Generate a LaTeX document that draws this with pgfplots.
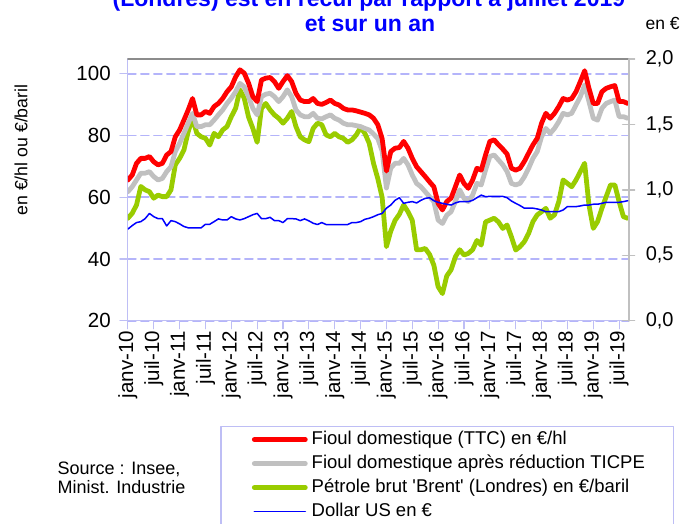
\documentclass[border=0pt]{standalone}
\usepackage{pgfplots}
\pgfplotsset{compat=1.18}
\usepackage{pgfplotstable}
\usepackage{fontspec}
\setmainfont{Liberation Sans}

\definecolor{lav}{RGB}{190,190,245}
\definecolor{gridlav}{RGB}{180,180,250}
\definecolor{fgray}{RGB}{192,192,192}
\definecolor{topgray}{RGB}{140,140,140}
\definecolor{brent}{RGB}{153,204,0}

% mois depuis janv-10 ; fioul TTC, fioul apres reduction TICPE, Brent (EUR/baril), dollar en EUR
\pgfplotstableread{
m red gray brent usd
0 65.6 61.8 53.2 0.700
1 67.2 63.4 54.8 0.727
2 71.0 65.6 57.5 0.750
3 72.6 67.8 63.5 0.757
4 72.6 67.8 62.4 0.780
5 73.2 68.3 61.8 0.820
6 71.5 66.7 59.7 0.795
7 70.5 65.6 60.7 0.780
8 71.0 66.1 60.2 0.780
9 73.7 68.3 60.2 0.724
10 74.8 69.9 62.4 0.765
11 79.6 74.8 70.5 0.757
12 81.8 77.5 72.6 0.740
13 85.0 80.7 75.3 0.720
14 88.3 84.0 81.3 0.710
15 92.0 87.2 85.6 0.710
16 86.7 82.9 80.7 0.710
17 86.7 82.9 79.6 0.710
18 87.8 83.5 79.1 0.737
19 87.2 83.5 76.9 0.737
20 89.4 85.0 80.7 0.757
21 90.4 86.7 79.6 0.778
22 92.0 88.3 81.8 0.770
23 94.2 90.4 82.9 0.770
24 95.8 92.1 86.1 0.795
25 99.0 94.2 88.8 0.778
26 101.3 96.9 94.8 0.770
27 100.2 95.8 92.1 0.780
28 97.0 92.6 86.0 0.795
29 92.6 88.8 82.3 0.810
30 91.0 86.7 77.8 0.820
31 98.0 92.6 88.8 0.780
32 98.6 93.4 90.4 0.780
33 98.8 93.7 88.3 0.790
34 97.5 92.6 86.7 0.765
35 95.3 91.0 85.6 0.765
36 97.5 92.6 84.0 0.750
37 99.4 94.8 85.6 0.780
38 97.5 92.6 87.8 0.780
39 93.7 88.3 82.9 0.778
40 91.5 86.7 79.6 0.765
41 91.0 86.1 78.6 0.778
42 91.0 86.1 78.0 0.763
43 92.0 87.2 82.3 0.745
44 90.4 85.6 84.0 0.735
45 90.1 85.4 83.5 0.750
46 90.7 86.1 80.2 0.735
47 91.5 86.7 79.6 0.735
48 90.4 85.6 80.7 0.735
49 89.9 85.0 79.6 0.735
50 88.8 84.0 79.1 0.735
51 88.3 83.5 77.8 0.735
52 88.3 83.5 78.6 0.750
53 88.0 83.2 80.2 0.750
54 87.6 82.9 82.6 0.757
55 87.2 82.3 80.7 0.775
56 86.7 81.8 77.5 0.783
57 85.6 80.5 71.0 0.795
58 83.5 79.0 66.0 0.810
59 79.0 75.0 60.0 0.820
60 68.5 63.0 44.0 0.860
61 74.8 69.4 49.0 0.884
62 75.9 71.0 52.5 0.920
63 76.1 71.0 54.5 0.940
64 78.1 72.6 57.5 0.897
65 75.9 70.5 55.3 0.905
66 72.6 67.2 52.5 0.910
67 69.9 64.5 43.0 0.900
68 68.3 63.4 43.0 0.920
69 66.7 61.8 43.4 0.935
70 65.0 60.2 41.5 0.940
71 63.4 58.6 38.0 0.917
72 58.0 52.6 31.0 0.905
73 55.9 51.5 28.8 0.897
74 58.6 54.2 34.5 0.890
75 59.7 55.3 36.5 0.884
76 63.4 58.6 40.7 0.900
77 67.2 62.4 43.0 0.910
78 64.5 59.7 41.3 0.910
79 62.9 58.6 41.8 0.910
80 65.6 60.7 43.0 0.920
81 69.4 64.5 46.0 0.940
82 68.8 64.0 44.5 0.960
83 73.7 68.8 52.0 0.948
84 78.1 73.2 52.6 0.950
85 78.6 73.7 53.2 0.950
86 77.0 72.1 52.0 0.950
87 75.6 70.5 49.9 0.950
88 74.0 68.3 51.0 0.940
89 69.4 64.5 47.2 0.915
90 68.8 64.0 42.9 0.897
91 69.4 64.5 44.0 0.880
92 71.6 66.6 45.6 0.860
93 74.3 69.4 48.3 0.860
94 77.0 72.6 52.1 0.860
95 79.1 74.8 54.3 0.854
96 84.0 79.6 55.3 0.846
97 87.2 82.3 56.4 0.833
98 85.6 80.7 53.2 0.833
99 87.2 82.3 54.3 0.833
100 89.4 84.5 58.6 0.833
101 92.0 87.2 65.6 0.846
102 91.5 86.7 64.5 0.872
103 92.0 87.2 63.4 0.872
104 94.2 89.9 65.6 0.872
105 97.5 92.6 68.3 0.877
106 101.0 96.4 71.0 0.884
107 95.3 91.0 57.5 0.884
108 90.4 85.6 49.9 0.890
109 90.4 85.0 52.1 0.890
110 94.2 88.8 56.4 0.897
111 95.3 90.4 60.2 0.905
112 95.8 91.0 64.0 0.905
113 96.2 91.5 64.0 0.905
114 91.0 86.1 58.6 0.905
115 91.0 86.1 53.7 0.910
116 90.4 85.6 53.2 0.917
}\prix

\begin{document}
\begin{tikzpicture}[x=1pt,y=1pt]
\path[use as bounding box] (-127.9,-202.3) rectangle (555.1,320.7);

\begin{axis}[
    at={(0,0)}, anchor=south west,
    scale only axis, width=500.7pt, height=261.7pt,
    xmin=0, xmax=116.2, ymin=20, ymax=104.8,
    axis x line*=bottom, axis y line*=left,
    axis line style={lav, line width=1.2pt},
    xtick={0,6,...,114},
    xticklabels={janv-10,juil-10,janv-11,juil-11,janv-12,juil-12,janv-13,juil-13,janv-14,juil-14,janv-15,juil-15,janv-16,juil-16,janv-17,juil-17,janv-18,juil-18,janv-19,juil-19},
    ytick={20,40,60,80,100},
    tick align=outside, major tick length=8pt,
    tick style={lav, line width=1.2pt},
    ymajorgrids,
    grid style={gridlav, line width=1.6pt, dash pattern=on 8pt off 5pt},
    /pgf/number format/assume math mode=true,
    x tick label style={rotate=90, anchor=east, font=\fontsize{20.5}{20.5}\selectfont, inner sep=2pt},
    y tick label style={font=\fontsize{20.5}{20.5}\selectfont, inner sep=1pt, xshift=-8pt},
    line join=round, line cap=round,
]
\addplot[brent, line width=4.8pt] table[x=m, y=brent]{\prix};
\addplot[fgray, line width=4.8pt] table[x=m, y=gray]{\prix};
\addplot[red, line width=4.8pt] table[x=m, y=red]{\prix};
\end{axis}

\begin{axis}[
    at={(0,0)}, anchor=south west,
    scale only axis, width=500.7pt, height=261.7pt,
    xmin=0, xmax=116.2, ymin=0, ymax=2,
    axis x line*=top, axis y line*=right,
    x axis line style={topgray, line width=1.5pt},
    y axis line style={fgray, line width=2.2pt},
    xtick=\empty,
    ytick={0,0.5,...,2},
    tick align=center, major tick length=12pt,
    ytick style={fgray, line width=1.4pt},
    /pgf/number format/assume math mode=true,
    /pgf/number format/fixed,
    /pgf/number format/fixed zerofill,
    /pgf/number format/precision=1,
    /pgf/number format/use comma,
    y tick label style={font=\fontsize{20}{20}\selectfont, inner sep=1pt, anchor=west, xshift=10pt},
    legend style={at={(0.1846,-0.4005)}, anchor=north west, draw=lav, line width=1.2pt,
        font=\fontsize{18.5}{18.5}\selectfont, inner xsep=28pt, inner ysep=4pt,
        row sep=5pt, column sep=3pt,
        nodes={inner sep=1pt, text height=13pt, text depth=4pt}},
    legend cell align=left,
    legend image code/.code={\path (0pt,0pt); \draw[#1, line cap=round] (3pt,0pt) -- (54pt,0pt);},
    line join=round, line cap=round,
]
\addlegendimage{red, line width=4.8pt}
\addlegendentry{Fioul domestique (TTC) en €/hl}
\addlegendimage{fgray, line width=4.8pt}
\addlegendentry{Fioul domestique après réduction TICPE}
\addlegendimage{brent, line width=4.8pt}
\addlegendentry{Pétrole brut \textquotesingle Brent\textquotesingle\ (Londres) en €/baril}
\addplot[blue, line width=1.5pt] table[x=m, y=usd]{\prix};
\addlegendentry{Dollar US en €}
\end{axis}

% titre (premiere ligne coupee par le bord)
\node[anchor=base, text=blue, font=\bfseries\fontsize{23}{23}\selectfont] at (241,314.7) {(Londres) est en recul par rapport à juillet 2019};
\node[anchor=base, text=blue, font=\bfseries\fontsize{23}{23}\selectfont] at (242.1,289.7) {et sur un an};
\node[anchor=base west, font=\fontsize{17.5}{17.5}\selectfont] at (514.1,291.7) {en €};
\node[rotate=90, font=\fontsize{17.7}{17.7}\selectfont] at (-106.9,170.7) {en €/hl ou €/baril};
\node[anchor=north west, align=left, inner sep=0pt, font=\fontsize{18}{19.5}\selectfont] at (-70.4,-141) {Source : Insee,\\Minist. Industrie};
\end{tikzpicture}
\end{document}
